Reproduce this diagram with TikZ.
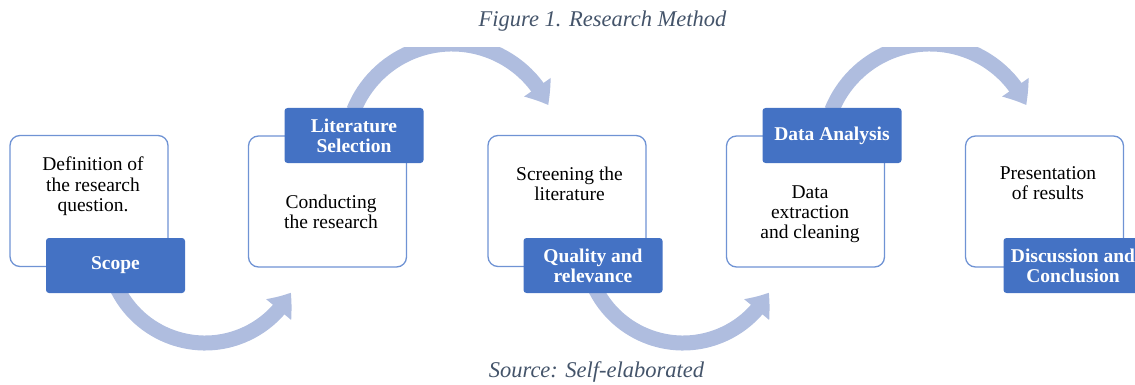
\documentclass[tikz,border=0pt]{standalone}
\usepackage{fontspec}
\setmainfont{Liberation Serif}
\usetikzlibrary{arrows.meta,bending,calc}
\definecolor{boxblue}{HTML}{4472C4}
\definecolor{edgeblue}{HTML}{6F93D4}
\definecolor{arcblue}{HTML}{AFBDDF}
\definecolor{capgray}{HTML}{44546A}
\begin{document}
\begin{tikzpicture}[x=1pt,y=1pt,
  stepbox/.style={draw=edgeblue, line width=1.3pt, rounded corners=10pt, fill=white,
    minimum width=158pt, minimum height=131pt, inner sep=0pt},
  tag/.style={fill=boxblue, rounded corners=3pt, text=white, align=center,
    font=\bfseries\fontsize{19.5}{20}\selectfont, minimum width=139pt, minimum height=55pt, inner sep=0pt},
  body/.style={font=\fontsize{19.5}{20}\selectfont, align=center, anchor=base, inner sep=0pt},
  captext/.style={font=\itshape\fontsize{22.5}{24}\selectfont, text=capgray, anchor=base, inner sep=0pt},
  flow/.style={draw=arcblue, line width=15pt, -{Triangle[width=31pt,length=21pt,bend]}}]
\useasboundingbox (0,0) rectangle (1135,-385);
% arc centres
\coordinate (cb1) at (205,-245);
\coordinate (cb2) at (683,-245);
\coordinate (ct1) at (452,-150);
\coordinate (ct2) at (930,-150);
% connectors
\draw[flow] ($(cb1)+(205:98pt)$) arc[start angle=205, end angle=331, radius=98pt];
\draw[flow] ($(cb2)+(205:98pt)$) arc[start angle=205, end angle=331, radius=98pt];
\begin{scope}
\clip (0,-48) rectangle (1135,-400);
\draw[flow] ($(ct1)+(158:106pt)$) arc[start angle=158, end angle=25, radius=106pt];
\draw[flow] ($(ct2)+(158:106pt)$) arc[start angle=158, end angle=25, radius=106pt];
\end{scope}
% boxes
\node[stepbox] (b1) at (89,-201) {};
\node[stepbox] (b2) at (327.5,-201.5) {};
\node[stepbox] (b3) at (567,-201) {};
\node[stepbox] (b4) at (805.5,-201.5) {};
\node[stepbox] (b5) at (1044.5,-201.5) {};
% box texts (base = baseline of last line)
\node[body] (t1) at (93,-211) {Definition of\\the research\\question.};
\node[body] (t2) at (331,-228) {Conducting\\the research};
\node[body] (t3) at (569.5,-200) {Screening the\\literature};
\node[body] (t4) at (810,-238) {Data\\extraction\\and cleaning};
\node[body] (t5) at (1048,-199) {Presentation\\of results};
% labels
\node[tag] (l1) at (115.5,-265.5) {Scope};
\node[tag] (l2) at (354,-135.5) {Literature\\Selection};
\node[tag] (l3) at (593,-265.5) {Quality and\\relevance};
\node[tag] (l4) at (832,-135.5) {Data Analysis};
\node[tag] (l5) at (1073,-265.5) {Discussion and\\Conclusion};
% captions
\node[captext] (c1) at (602.5,-27) {Figure 1. Research Method};
\node[captext] (c2) at (596.5,-377) {Source: Self-elaborated};
\end{tikzpicture}
\end{document}
